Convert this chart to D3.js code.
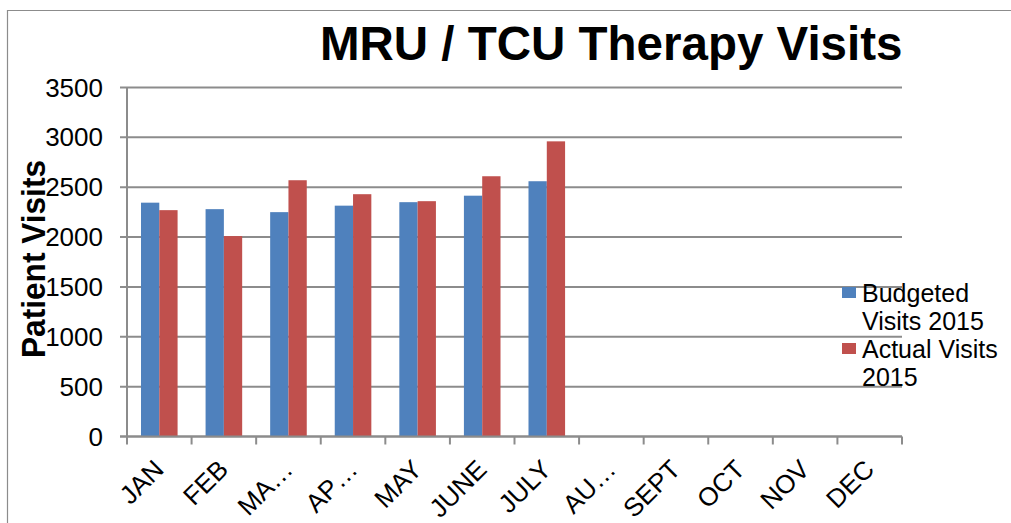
<!DOCTYPE html>
<html>
<head>
<meta charset="utf-8">
<script src="https://cdn.jsdelivr.net/npm/d3@7"></script>
<style>
  body { margin: 0; background: #fff; }
  text { font-family: "Liberation Sans", Arial, sans-serif; fill: #000; }
</style>
</head>
<body>
<div id="chart"></div>
<script>
var months = ["JAN", "FEB", "MA\u2026", "AP\u2026", "MAY", "JUNE", "JULY", "AU\u2026", "SEPT", "OCT", "NOV", "DEC"];
var seriesNames = ["Budgeted Visits 2015", "Actual Visits 2015"];
var budgeted = [2345, 2280, 2250, 2315, 2350, 2415, 2560];
var actual = [2270, 2010, 2570, 2430, 2360, 2610, 2960];
var yTicks = [0, 500, 1000, 1500, 2000, 2500, 3000, 3500];
var colors = ["#4F81BD", "#C0504D"];

var width = 1011,
    height = 523;
var plotLeft = 127, plotRight = 902, plotTop = 87.5, plotBottom = 436.5;

var svg = d3.select("#chart")
    .append("svg")
    .attr("width", width)
    .attr("height", height);

// outer frame (only left and top edges are inside the picture)
svg.append("path")
    .attr("d", "M7.5," + height + "V10.5H" + width)
    .attr("fill", "none")
    .attr("stroke", "#8c8c8c")
    .attr("stroke-width", 1.2);

var x0 = d3.scaleBand().domain(months).range([plotLeft, plotRight]);
var x1 = d3.scaleBand().domain(seriesNames)
    .range([0, x0.bandwidth()])
    .paddingInner(0)
    .paddingOuter(0.765);
var y = d3.scaleLinear().domain([0, 3500]).range([plotBottom, plotTop]);

// gridlines
svg.append("g")
    .selectAll("line")
    .data(yTicks)
    .enter()
    .append("line")
    .attr("x1", plotLeft - 7)
    .attr("x2", plotRight)
    .attr("y1", d => y(d))
    .attr("y2", d => y(d))
    .attr("stroke", "#8c8c8c")
    .attr("stroke-width", 2);

// y tick labels
svg.append("g")
    .selectAll("text")
    .data(yTicks)
    .enter()
    .append("text")
    .attr("x", 103)
    .attr("y", d => y(d))
    .attr("dy", "0.35em")
    .attr("text-anchor", "end")
    .style("font-size", "26px")
    .text(d => d);

// bars
var rows = months.map((m, i) => ({ month: m, values: [budgeted[i], actual[i]] }));

var groups = svg.append("g")
    .selectAll("g")
    .data(rows.filter(d => d.values[0] != null))
    .enter()
    .append("g")
    .attr("transform", d => "translate(" + x0(d.month) + ",0)");

groups.selectAll("rect")
    .data(d => d.values.map((v, j) => ({ name: seriesNames[j], value: v, j: j })))
    .enter()
    .append("rect")
    .attr("x", d => x1(d.name))
    .attr("width", x1.bandwidth())
    .attr("y", d => y(d.value))
    .attr("height", d => plotBottom - y(d.value))
    .attr("fill", d => colors[d.j]);

// y axis line
svg.append("line")
    .attr("x1", plotLeft).attr("x2", plotLeft)
    .attr("y1", plotTop).attr("y2", plotBottom)
    .attr("stroke", "#8c8c8c")
    .attr("stroke-width", 2);

// x axis line + ticks between categories
svg.append("line")
    .attr("x1", plotLeft - 7).attr("x2", plotRight)
    .attr("y1", plotBottom).attr("y2", plotBottom)
    .attr("stroke", "#8c8c8c")
    .attr("stroke-width", 2);

var tickPos = months.map(m => x0(m)).concat([plotRight]);
svg.append("g")
    .selectAll("line")
    .data(tickPos)
    .enter()
    .append("line")
    .attr("x1", d => d).attr("x2", d => d)
    .attr("y1", plotBottom).attr("y2", plotBottom + 8)
    .attr("stroke", "#8c8c8c")
    .attr("stroke-width", 2);

// x labels
svg.append("g")
    .selectAll("text")
    .data(months)
    .enter()
    .append("text")
    .attr("text-anchor", "end")
    .attr("transform", d => "translate(" + (x0(d) + x0.bandwidth() / 2 + 6) + ",471) rotate(-45)")
    .style("font-size", "26px")
    .text(d => d);

// title
svg.append("text")
    .attr("x", 320)
    .attr("y", 60)
    .style("font-size", "47.5px")
    .style("font-weight", "bold")
    .text("MRU / TCU Therapy Visits");

// y axis title
svg.append("text")
    .attr("transform", "translate(45,259) rotate(-90)")
    .attr("text-anchor", "middle")
    .attr("textLength", 198)
    .attr("lengthAdjust", "spacingAndGlyphs")
    .style("font-size", "33px")
    .style("font-weight", "bold")
    .text("Patient Visits");

// legend
var legendLines = [["Budgeted", "Visits 2015"], ["Actual Visits", "2015"]];
var legend = svg.append("g").attr("transform", "translate(842,0)");
legendLines.forEach((lines, i) => {
    var base = 302 + i * 56;
    legend.append("rect")
        .attr("x", 0)
        .attr("y", base - 15)
        .attr("width", 14)
        .attr("height", 11)
        .attr("fill", colors[i]);
    lines.forEach((t, k) => {
        legend.append("text")
            .attr("x", 20)
            .attr("y", base + k * 28)
            .style("font-size", "25px")
            .text(t);
    });
});
</script>
</body>
</html>
